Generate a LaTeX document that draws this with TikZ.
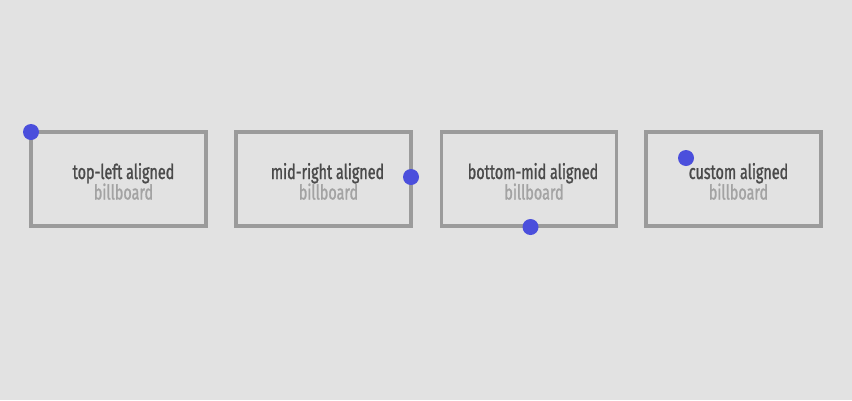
\documentclass[tikz,border=0pt]{standalone}
\usepackage{fontspec}
\newfontfamily\boardfont[FakeStretch=0.7,FakeBold=1.2]{Fira Sans}
\definecolor{bgcol}{HTML}{E2E2E2}
\definecolor{framecol}{HTML}{9B9B9B}
\definecolor{dotcol}{HTML}{4B4FDC}
\definecolor{titlecol}{HTML}{4A4A4A}
\definecolor{subcol}{HTML}{A3A3A3}

\begin{document}
\begin{tikzpicture}[x=1pt,y=-1pt,
  board/.style={draw=framecol,line width=3.5pt,inner sep=0pt,outer sep=0pt,
    minimum width=175pt,minimum height=94pt},
  anchordot/.style={circle,fill=dotcol,inner sep=0pt,minimum size=16pt},
  title/.style={anchor=base,inner sep=0pt,text=titlecol,font=\boardfont\fontsize{20.5}{22}\selectfont},
  sub/.style={anchor=base,inner sep=0pt,text=subcol,font=\boardfont\fontsize{20.5}{22}\selectfont}]
  \fill[bgcol] (0,0) rectangle (852,400);
  \useasboundingbox (0,0) rectangle (852,400);

  % boxes
  \node[board] (tl) at (118.5,179) {};
  \node[board] (mr) at (323.5,179) {};
  \node[board] (bm) at (529,179) {};
  \node[board] (cu) at (733.5,179) {};

  % labels
  \node[title] (tl-title) at ([xshift=5]tl.center) {top-left aligned};
  \node[sub] (tl-sub) at ([xshift=5,yshift=-20.5]tl.center) {billboard};
  \node[title] (mr-title) at ([xshift=4]mr.center) {mid-right aligned};
  \node[sub] (mr-sub) at ([xshift=5,yshift=-20.5]mr.center) {billboard};
  \node[title] (bm-title) at ([xshift=4]bm.center) {bottom-mid aligned};
  \node[sub] (bm-sub) at ([xshift=5,yshift=-20.5]bm.center) {billboard};
  \node[title] (cu-title) at ([xshift=5]cu.center) {custom aligned};
  \node[sub] (cu-sub) at ([xshift=5,yshift=-20.5]cu.center) {billboard};

  % anchor points
  \node[anchordot] (tl-dot) at (tl.north west) {};
  \node[anchordot] (mr-dot) at ([yshift=2]mr.east) {};
  \node[anchordot] (bm-dot) at ([xshift=1.5,yshift=-1]bm.south) {};
  \node[anchordot] (cu-dot) at ([shift={(40,26)}]cu.north west) {};
\end{tikzpicture}
\end{document}
